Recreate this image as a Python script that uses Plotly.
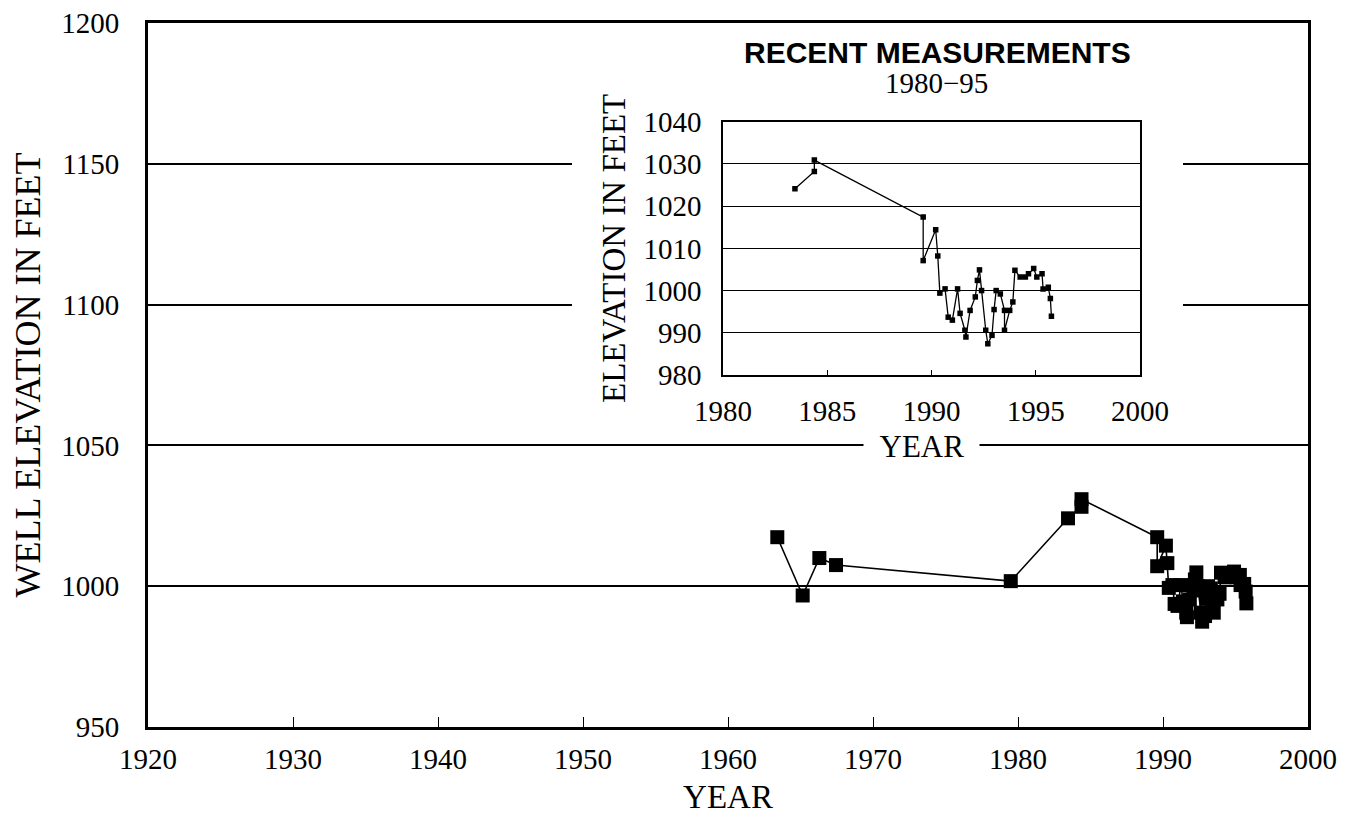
import plotly.graph_objects as go

# ---- data ----
years = [1963.4, 1965.15, 1966.3, 1967.45, 1979.5,
         1983.45, 1984.38, 1984.38, 1989.6, 1989.6, 1990.2, 1990.3, 1990.4,
         1990.65, 1990.8, 1991.0, 1991.25, 1991.37, 1991.6, 1991.65, 1991.85,
         1992.1, 1992.2, 1992.3, 1992.4, 1992.6, 1992.7, 1992.9, 1993.0,
         1993.1, 1993.3, 1993.5, 1993.5, 1993.75, 1993.9, 1994.0, 1994.25,
         1994.5, 1994.65, 1994.9, 1995.05, 1995.3, 1995.35, 1995.6, 1995.7,
         1995.75]
elev = [1017.4, 996.7, 1010.0, 1007.5, 1001.8,
        1024.1, 1028.2, 1030.9, 1017.4, 1007.1, 1014.4, 1008.2, 999.4,
        1000.4, 993.7, 993.0, 1000.4, 994.6, 990.6, 989.0, 995.3,
        998.5, 1002.4, 1004.9, 1000.0, 990.6, 987.4, 989.4, 995.5,
        1000.0, 999.2, 995.3, 990.6, 995.3, 997.3, 1004.8, 1003.2,
        1003.2, 1004.0, 1005.2, 1003.2, 1004.0, 1000.4, 1000.8, 998.1,
        993.9]

recent_years = [y for y in years if y >= 1980]
recent_elev = [e for y, e in zip(years, elev) if y >= 1980]

main_xticks = [1920, 1930, 1940, 1950, 1960, 1970, 1980, 1990, 2000]
main_yticks = [950, 1000, 1050, 1100, 1150, 1200]
inset_xticks = [1980, 1985, 1990, 1995, 2000]
inset_yticks = [980, 990, 1000, 1010, 1020, 1030, 1040]

SERIF = "Liberation Serif"
SANS = "Liberation Sans"

fig = go.Figure()

fig.add_trace(go.Scatter(
    x=years, y=elev, mode="lines+markers",
    line=dict(color="black", width=1.6),
    marker=dict(symbol="square", size=14, color="black"),
    xaxis="x", yaxis="y", showlegend=False, hoverinfo="x+y"))

fig.add_trace(go.Scatter(
    x=recent_years, y=recent_elev, mode="lines+markers",
    line=dict(color="black", width=1.3),
    marker=dict(symbol="square", size=5.5, color="black"),
    xaxis="x2", yaxis="y2", showlegend=False, hoverinfo="x+y"))

fig.update_layout(
    width=1350, height=809,
    margin=dict(l=140, r=50, t=15, b=90, autoexpand=False),
    paper_bgcolor="white", plot_bgcolor="white",
    font=dict(family=SERIF, color="black", size=29),
    xaxis=dict(
        domain=[0, 1], range=[1920, 2000], tickvals=main_xticks,
        ticks="inside", ticklen=10, tickwidth=1.2, tickcolor="black",
        showline=True, mirror=True, linecolor="black", linewidth=3,
        showgrid=False, zeroline=False, ticklabeloverflow="allow",
        tickfont=dict(family=SERIF, size=29), ticklabelstandoff=4,
        title=dict(text="YEAR", font=dict(family=SERIF, size=33), standoff=12),
    ),
    yaxis=dict(
        domain=[0, 1], range=[950, 1200], tickvals=main_yticks,
        ticks="", showline=True, mirror=True, linecolor="black", linewidth=3,
        showgrid=True, gridcolor="black", gridwidth=1.5, zeroline=False,
        ticklabeloverflow="allow",
        tickfont=dict(family=SERIF, size=29), ticklabelstandoff=20,
        title=dict(text="WELL ELEVATION IN FEET", font=dict(family=SERIF, size=36), standoff=12),
    ),
    xaxis2=dict(
        domain=[0.4957, 0.8552], range=[1980, 2000], tickvals=inset_xticks,
        anchor="y2", ticks="inside", ticklen=5, tickwidth=1.2, tickcolor="black",
        showline=True, mirror=True, linecolor="black", linewidth=1.6,
        showgrid=False, zeroline=False, ticklabeloverflow="allow",
        tickfont=dict(family=SERIF, size=29), ticklabelstandoff=9,
    ),
    yaxis2=dict(
        domain=[0.5, 0.8598], range=[980, 1040], tickvals=inset_yticks,
        anchor="x2", ticks="", showline=True, mirror=True,
        linecolor="black", linewidth=1.6, ticklabeloverflow="allow",
        showgrid=True, gridcolor="black", gridwidth=1.3, zeroline=False,
        tickfont=dict(family=SERIF, size=29), ticklabelstandoff=14,
        title=dict(text="ELEVATION IN FEET", font=dict(family=SERIF, size=33), standoff=8),
    ),
    shapes=[
        dict(type="rect", xref="x", yref="y", layer="between",
             x0=1949.24, x1=1991.38, y0=1057, y1=1199.3,
             fillcolor="white", line=dict(width=0)),
    ],
    annotations=[
        dict(text="<b>RECENT MEASUREMENTS</b>", xref="paper", yref="paper",
             x=0.681, y=0.9575, showarrow=False, xanchor="center", yanchor="middle",
             font=dict(family=SANS, size=30, color="black"),
             ),
        dict(text="1980\u221295", xref="paper", yref="paper",
             x=0.680, y=0.915, showarrow=False, xanchor="center", yanchor="middle",
             font=dict(family=SERIF, size=29, color="black")),
        dict(text="&nbsp;&nbsp;YEAR&nbsp;&nbsp;", xref="paper", yref="paper",
             x=0.6664, y=0.398, showarrow=False, xanchor="center", yanchor="middle",
             bgcolor="white", borderpad=0,
             font=dict(family=SERIF, size=31, color="black")),
    ],
)

fig.write_html("out.html")
